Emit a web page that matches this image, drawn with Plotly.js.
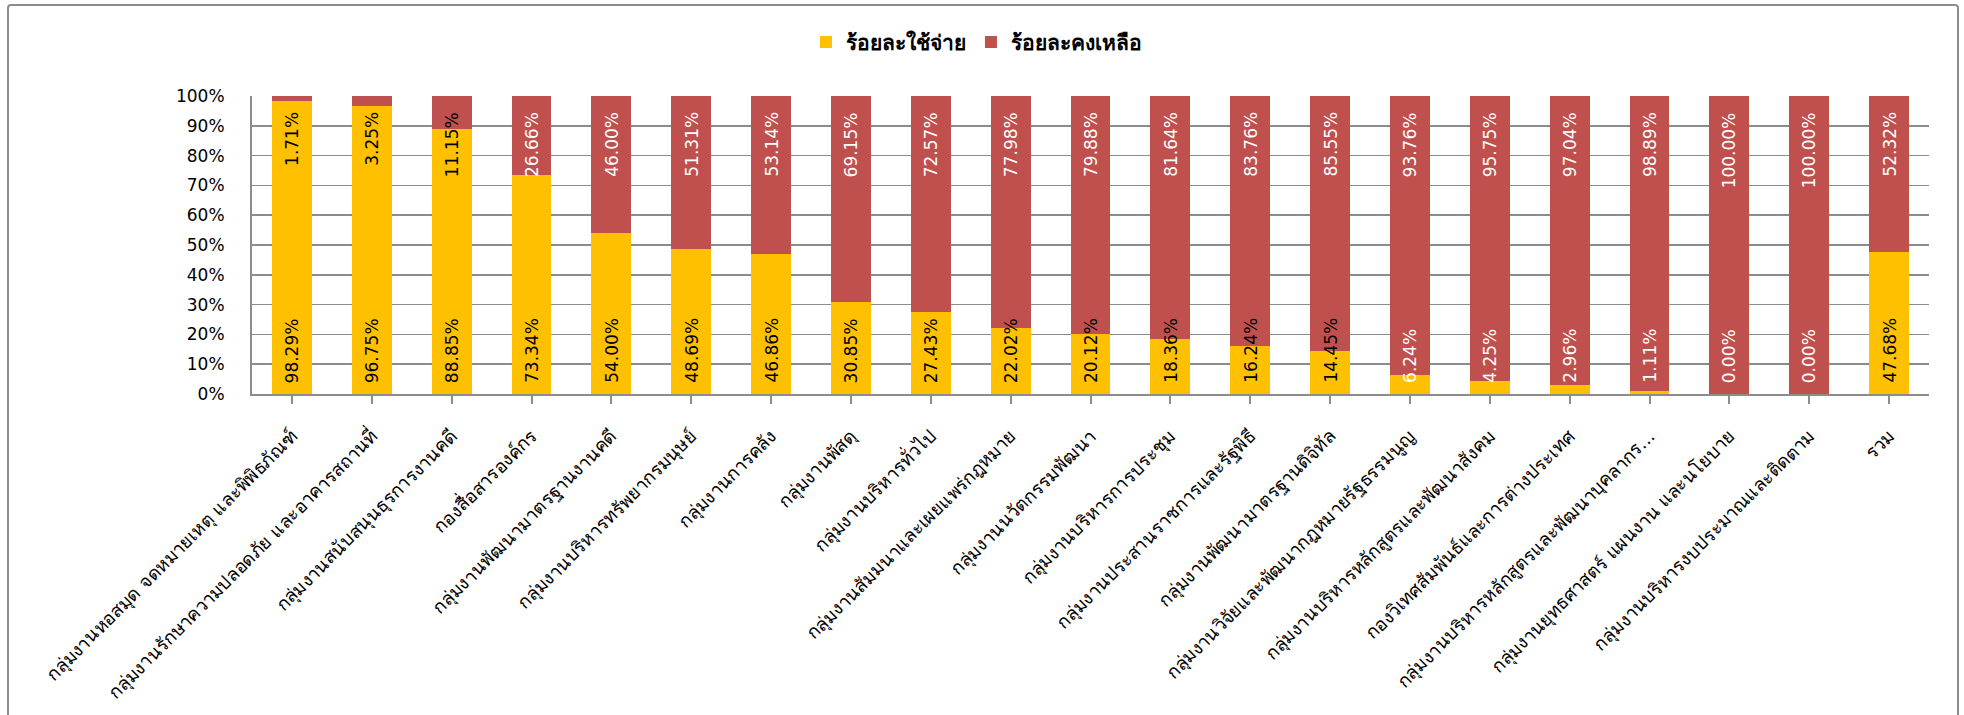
<!DOCTYPE html>
<html>
<head>
<meta charset="utf-8">
<script src="https://cdn.plot.ly/plotly-3.0.1.min.js"></script>
<style>
  html, body { margin: 0; padding: 0; background: #fff; }
  #wrap { position: relative; width: 1964px; height: 715px; overflow: hidden; }
  #chart { position: absolute; left: 0; top: 0; width: 1964px; height: 715px; }
  #frame { position: absolute; left: 7px; top: 4px; width: 1948px; height: 740px;
           border: 2px solid #8c8c8c; border-radius: 4px; pointer-events: none; }
</style>
</head>
<body>
<div id="wrap">
  <div id="chart"></div>
  <div id="frame"></div>
</div>
<script>
const categories = [
  "กลุ่มงานหอสมุด จดหมายเหตุ และพิพิธภัณฑ์",
  "กลุ่มงานรักษาความปลอดภัย และอาคารสถานที่",
  "กลุ่มงานสนับสนุนธุรการงานคดี",
  "กองสื่อสารองค์กร",
  "กลุ่มงานพัฒนามาตรฐานงานคดี",
  "กลุ่มงานบริหารทรัพยากรมนุษย์",
  "กลุ่มงานการคลัง",
  "กลุ่มงานพัสดุ",
  "กลุ่มงานบริหารทั่วไป",
  "กลุ่มงานสัมมนาและเผยแพร่กฎหมาย",
  "กลุ่มงานนวัตกรรมพัฒนา",
  "กลุ่มงานบริหารการประชุม",
  "กลุ่มงานประสานราชการและรัฐพิธี",
  "กลุ่มงานพัฒนามาตรฐานดิจิทัล",
  "กลุ่มงานวิจัยและพัฒนากฎหมายรัฐธรรมนูญ",
  "กลุ่มงานบริหารหลักสูตรและพัฒนาสังคม",
  "กองวิเทศสัมพันธ์และการต่างประเทศ",
  "กลุ่มงานบริหารหลักสูตรและพัฒนาบุคลากร...",
  "กลุ่มงานยุทธศาสตร์ แผนงาน และนโยบาย",
  "กลุ่มงานบริหารงบประมาณและติดตาม",
  "รวม"
];
const spentPct = [98.29, 96.75, 88.85, 73.34, 54.00, 48.69, 46.86, 30.85, 27.43, 22.02, 20.12, 18.36, 16.24, 14.45, 6.24, 4.25, 2.96, 1.11, 0.00, 0.00, 47.68];
const remainPct = [1.71, 3.25, 11.15, 26.66, 46.00, 51.31, 53.14, 69.15, 72.57, 77.98, 79.88, 81.64, 83.76, 85.55, 93.76, 95.75, 97.04, 98.89, 100.00, 100.00, 52.32];
const seriesNames = ["ร้อยละใช้จ่าย", "ร้อยละคงเหลือ"];
const yTickVals = [0, 10, 20, 30, 40, 50, 60, 70, 80, 90, 100];
const yTickText = ["0%", "10%", "20%", "30%", "40%", "50%", "60%", "70%", "80%", "90%", "100%"];

const YELLOW = "#FFC000", RED = "#C0504D";
const FONT = "DejaVu Sans, Tahoma, sans-serif";

const traces = [
  { type: "bar", name: seriesNames[0], x: categories, y: spentPct,
    marker: { color: YELLOW, line: { width: 0 } }, hoverinfo: "skip" },
  { type: "bar", name: seriesNames[1], x: categories, y: remainPct,
    marker: { color: RED, line: { width: 0 } }, hoverinfo: "skip" }
];

const annotations = [];
categories.forEach((c, i) => {
  annotations.push({
    x: c, y: 0, xref: "x", yref: "y", yanchor: "bottom", xanchor: "center",
    yshift: 9, textangle: -90, showarrow: false,
    text: spentPct[i].toFixed(2) + "%",
    font: { family: FONT, size: 17, color: spentPct[i] >= 10 ? "#000" : "#fff" }
  });
  annotations.push({
    x: c, y: 100, xref: "x", yref: "y", yanchor: "top", xanchor: "center",
    yshift: -14, textangle: -90, showarrow: false,
    text: remainPct[i].toFixed(2) + "%",
    font: { family: FONT, size: 17, color: remainPct[i] > 16 ? "#fff" : "#000" }
  });
});

const layout = {
  width: 1964, height: 715,
  margin: { l: 252, r: 35, t: 96, b: 321, pad: 0 },
  paper_bgcolor: "#fff", plot_bgcolor: "#fff",
  barmode: "stack", bargap: 0.5,
  font: { family: FONT, color: "#000" },
  showlegend: true,
  legend: { orientation: "h", x: 0.432, xanchor: "center", y: 1.18, yanchor: "middle",
            font: { family: FONT, size: 21, color: "#000", weight: "bold" },
            itemwidth: 30, traceorder: "normal" },
  xaxis: {
    type: "category", tickangle: -45, automargin: false,
    tickfont: { family: FONT, size: 18.5, color: "#000" },
    ticks: "outside", ticklen: 8, tickcolor: "#8c8c8c", tickwidth: 2,
    showline: true, linecolor: "#8c8c8c", linewidth: 2,
    ticklabelstandoff: 14, showgrid: false
  },
  yaxis: {
    range: [0, 100], tickvals: yTickVals, ticktext: yTickText,
    tickfont: { family: FONT, size: 17, color: "#000" },
    ticks: "", showline: true, linecolor: "#8c8c8c", linewidth: 2,
    showgrid: true, gridcolor: "#8c8c8c", gridwidth: 1.5,
    zeroline: false, ticklabelstandoff: 22, automargin: false
  },
  annotations: annotations
};

Plotly.newPlot("chart", traces, layout, { displayModeBar: false, staticPlot: true });
</script>
</body>
</html>
